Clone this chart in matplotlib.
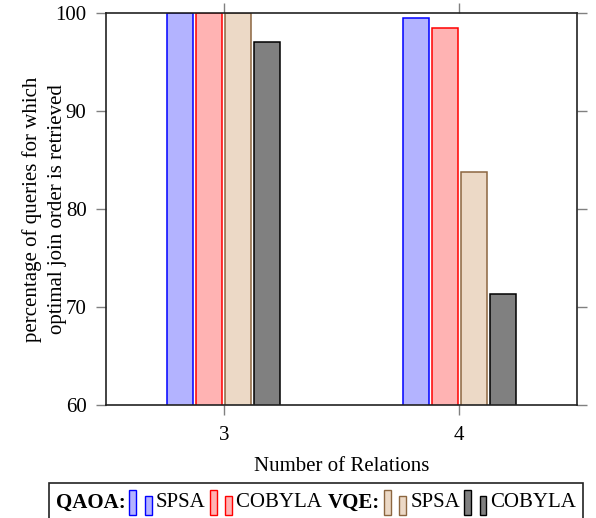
import numpy as np
import matplotlib
matplotlib.use("Agg")
import matplotlib.pyplot as plt
from matplotlib.offsetbox import TextArea, DrawingArea, HPacker, AnchoredOffsetbox
from matplotlib.patches import Rectangle

plt.rcParams["font.family"] = ["Liberation Serif", "DejaVu Serif"]

relations = [3, 4]
qaoa_spsa = [100.0, 99.5]
qaoa_cobyla = [100.0, 98.5]
vqe_spsa = [100.0, 83.8]
vqe_cobyla = [97.0, 71.3]

series = [qaoa_spsa, qaoa_cobyla, vqe_spsa, vqe_cobyla]
fills = ["#b3b3ff", "#ffb3b3", "#ecd9c6", "#808080"]
edges = ["#0000ff", "#ff0000", "#8c6640", "#000000"]

fs = 15

fig = plt.figure(figsize=(5.96, 5.18), dpi=100)
ax = fig.add_axes([106/596, 1 - 405/518, 471/596, 392/518])

x = np.array(relations, dtype=float)
step = 0.123
width = 0.11
for i, (vals, fc, ec) in enumerate(zip(series, fills, edges)):
    ax.bar(x + (i - 1.5) * step, vals, width=width, bottom=0,
           color=fc, edgecolor=ec, linewidth=1.1, zorder=2)

ax.set_xlim(2.5, 4.5)
ax.set_ylim(60, 100)
ax.set_xticks(relations)
ax.set_yticks([60, 70, 80, 90, 100])
ax.tick_params(direction="out", length=7, width=1, color="#808080",
               labelsize=fs, top=True, right=True, pad=7)
ax.tick_params(axis="x", pad=8)
for s in ax.spines.values():
    s.set_linewidth(1.2)
    s.set_color("#222222")
ax.set_xlabel("Number of Relations", fontsize=fs, labelpad=9)
ax.set_ylabel("percentage of queries for which\noptimal join order is retrieved",
              fontsize=fs, labelpad=-8, linespacing=1.4)


# legend: two small bars per entry, like the pgfplots ybar legend
def bar_icon(fc, ec):
    da = DrawingArea(20, 18, 0, 0)
    da.add_artist(Rectangle((2, 0), 5, 18, facecolor=fc, edgecolor=ec, linewidth=1.0))
    da.add_artist(Rectangle((13, 0), 5, 14, facecolor=fc, edgecolor=ec, linewidth=1.0))
    return da

items = [TextArea("QAOA:", textprops=dict(fontsize=fs, fontweight="bold")),
         bar_icon(fills[0], edges[0]),
         TextArea("SPSA", textprops=dict(fontsize=fs)),
         bar_icon(fills[1], edges[1]),
         TextArea("COBYLA ", textprops=dict(fontsize=fs)),
         TextArea("VQE:", textprops=dict(fontsize=fs, fontweight="bold")),
         bar_icon(fills[2], edges[2]),
         TextArea("SPSA", textprops=dict(fontsize=fs)),
         bar_icon(fills[3], edges[3]),
         TextArea("COBYLA", textprops=dict(fontsize=fs))]
pack = HPacker(children=items, align="center", pad=0, sep=1)
leg = AnchoredOffsetbox(loc="upper center", child=pack, pad=0.5, borderpad=0,
                        frameon=True, bbox_to_anchor=(316/596, 1 - 483/518),
                        bbox_transform=fig.transFigure)
leg.patch.set_edgecolor("#222222")
leg.patch.set_linewidth(1.2)
fig.add_artist(leg)

fig.savefig("out.png", dpi=100)
